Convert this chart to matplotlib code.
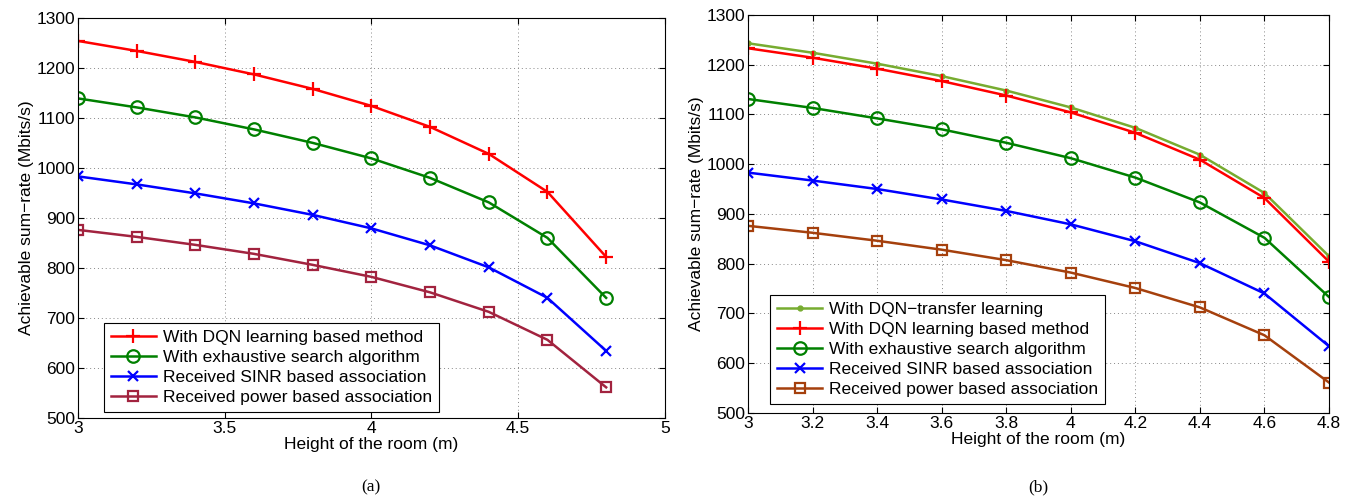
import numpy as np
import matplotlib
matplotlib.use("Agg")
import matplotlib.pyplot as plt

plt.rcParams["font.family"] = ["Liberation Sans", "DejaVu Sans"]

# Heights of the room (m)
heights = [3.0, 3.2, 3.4, 3.6, 3.8, 4.0, 4.2, 4.4, 4.6, 4.8]

# (a) sum-rates (Mbits/s)
a_dqn = [1254, 1234, 1212, 1187, 1158, 1124, 1082, 1028, 952, 822]
a_exh = [1139, 1121, 1101, 1077, 1050, 1019, 980, 931, 860, 740]
a_sinr = [983, 967, 949, 929, 906, 879, 845, 801, 740, 634]
a_pow = [876, 862, 846, 828, 806, 782, 751, 712, 656, 561]

# (b) sum-rates (Mbits/s)
b_transfer = [1243, 1224, 1202, 1177, 1148, 1114, 1073, 1019, 942, 815]
b_dqn = [1233, 1214, 1192, 1167, 1138, 1104, 1063, 1009, 932, 804]
b_exh = [1131, 1113, 1092, 1070, 1043, 1012, 973, 923, 852, 733]
b_sinr = [983, 967, 950, 929, 906, 879, 845, 801, 740, 634]
b_pow = [876, 862, 846, 828, 807, 782, 751, 712, 656, 561]

labels = [
    "With DQN\u2212transfer learning",
    "With DQN learning based method",
    "With exhaustive search algorithm",
    "Received SINR based association",
    "Received power based association",
]

fig = plt.figure(figsize=(13.54, 4.98), dpi=100)
ax1 = fig.add_axes([0.0576, 0.161, 0.4334, 0.803])
ax2 = fig.add_axes([0.5525, 0.171, 0.4290, 0.799])

fs = 12.5


def style(ax, xticks, xlim):
    ax.set_xlim(*xlim)
    ax.set_ylim(500, 1300)
    ax.set_xticks(xticks)
    ax.set_yticks(np.arange(500, 1301, 100))
    ax.grid(True, linestyle=(0, (1, 3)), color="#888888", linewidth=0.7)
    ax.tick_params(direction="in", labelsize=fs, top=True, right=True, length=4, pad=2)
    ax.set_xlabel("Height of the room (m)", fontsize=fs, labelpad=1)
    ax.set_ylabel("Achievable sum\u2212rate (Mbits/s)", fontsize=fs, labelpad=2)
    for s in ax.spines.values():
        s.set_linewidth(0.8)


def add_legend(ax, anchor):
    leg = ax.legend(loc="lower left", bbox_to_anchor=anchor, fontsize=fs, fancybox=False,
                    edgecolor="black", framealpha=1, borderpad=0.4, labelspacing=0.28,
                    handlelength=2.6, handletextpad=0.4, borderaxespad=0)
    leg.get_frame().set_linewidth(0.8)


lw = 1.8
# Panel (a)
ax1.plot(heights, a_dqn, color="red", marker="+", ms=10, mew=1.6, lw=lw, label=labels[1])
ax1.plot(heights, a_exh, color="#008000", marker="o", ms=9, mfc="none", mew=1.6, lw=lw, label=labels[2])
ax1.plot(heights, a_sinr, color="blue", marker="x", ms=7, mew=1.6, lw=lw, label=labels[3])
ax1.plot(heights, a_pow, color="#a2233f", marker="s", ms=7.5, mfc="none", mew=1.6, lw=lw, label=labels[4])
style(ax1, [3, 3.5, 4, 4.5, 5], (3, 5))
ax1.set_xticklabels(["3", "3.5", "4", "4.5", "5"])
add_legend(ax1, (0.044, 0.015))

# Panel (b)
ax2.plot(heights, b_transfer, color="#77ac30", marker=".", ms=7, lw=lw, label=labels[0])
ax2.plot(heights, b_dqn, color="red", marker="+", ms=10, mew=1.6, lw=lw, label=labels[1])
ax2.plot(heights, b_exh, color="#008000", marker="o", ms=9, mfc="none", mew=1.6, lw=lw, label=labels[2])
ax2.plot(heights, b_sinr, color="blue", marker="x", ms=7, mew=1.6, lw=lw, label=labels[3])
ax2.plot(heights, b_pow, color="#a5400d", marker="s", ms=7.5, mfc="none", mew=1.6, lw=lw, label=labels[4])
style(ax2, heights, (3, 4.8))
ax2.set_xticklabels(["3", "3.2", "3.4", "3.6", "3.8", "4", "4.2", "4.4", "4.6", "4.8"])
add_legend(ax2, (0.038, 0.022))

fig.text(0.274, 0.005, "(a)", ha="center", va="bottom", fontsize=12.5, family="Liberation Serif")
fig.text(0.767, 0.005, "(b)", ha="center", va="bottom", fontsize=12.5, family="Liberation Serif")

fig.savefig("out.png", dpi=100)
